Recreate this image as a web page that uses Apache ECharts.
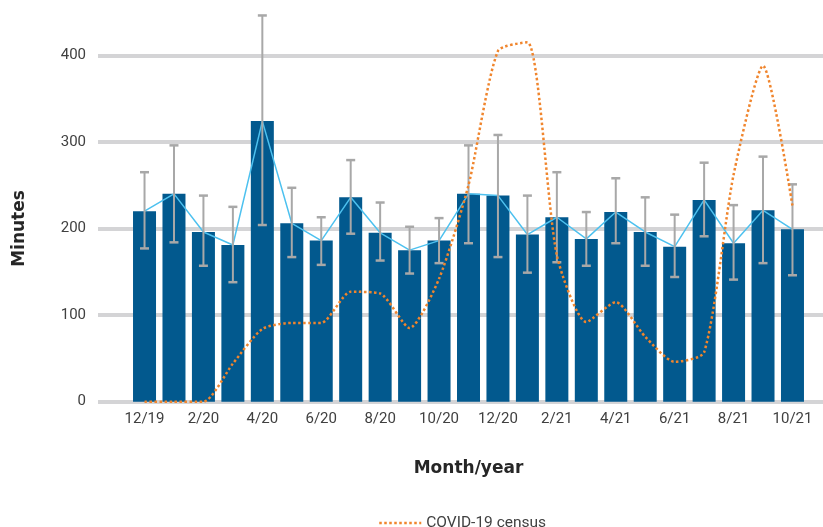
<!DOCTYPE html>
<html>
<head>
<meta charset="utf-8">
<script src="https://cdn.jsdelivr.net/npm/echarts@6/dist/echarts.min.js"></script>
<style>
html,body{margin:0;padding:0;background:#fff;}
#chart{width:823px;height:527px;}
</style>
</head>
<body>
<div id="chart"></div>
<script>
var categories = ['12/19','1/20','2/20','3/20','4/20','5/20','6/20','7/20','8/20','9/20','10/20','11/20','12/20','1/21','2/21','3/21','4/21','5/21','6/21','7/21','8/21','9/21','10/21'];
var minutes = [220,240,196,181,324,206,186,236,195,175,186,240,238,193,213,188,219,196,179,233,183,221,199];
var errHigh = [265,296,238,225,446,247,213,279,230,202,212,296,308,238,265,219,258,236,216,276,227,283,251];
var errLow  = [177,184,157,138,204,167,158,194,163,148,160,183,167,149,161,157,183,157,144,191,141,160,146];
var covid   = [0,0,0,44,84,91,91,127,125,85,142,250,405,415,169,92,115,75,46,57,262,388,226];
var yTicks  = [0,100,200,300,400];

var errData = categories.map(function(c, i){ return [i, errLow[i], errHigh[i]]; });

var chart = echarts.init(document.getElementById('chart'));
var TOP = 55.3, BOTTOM = 125.3;
var option = {
  animation: false,
  textStyle: {fontFamily: 'Roboto'},
  grid: [
    {left: 98, right: 0, top: TOP, bottom: BOTTOM},
    {left: 129.8, right: 15.8, top: TOP, bottom: BOTTOM}
  ],
  xAxis: [
    {type: 'value', gridIndex: 0, show: false, min: 0, max: 1},
    {type: 'category', gridIndex: 1, data: categories, boundaryGap: true,
     axisLine: {show: false}, axisTick: {show: false},
     axisLabel: {interval: 1, color: '#404040', fontSize: 15, margin: 10, fontFamily: 'Roboto'},
     name: 'Month/year', nameLocation: 'middle', nameGap: 58,
     nameTextStyle: {fontFamily: 'DejaVu Sans', fontWeight: 'bold', fontSize: 17, color: '#262626'}}
  ],
  yAxis: [
    {type: 'value', gridIndex: 0, min: 0, max: 400, interval: 100,
     axisLine: {show: false}, axisTick: {show: false},
     axisLabel: {color: '#404040', fontSize: 15, margin: 12, fontFamily: 'Roboto',
       formatter: function(v){ return yTicks.indexOf(v) >= 0 ? String(v) : ''; }},
     splitLine: {show: true, lineStyle: {color: '#D4D4D6', width: 4}},
     name: 'Minutes', nameLocation: 'middle', nameRotate: 90, nameGap: 70,
     nameTextStyle: {fontFamily: 'DejaVu Sans', fontWeight: 'bold', fontSize: 17, color: '#262626'}},
    {type: 'value', gridIndex: 1, min: 0, max: 400, interval: 100, show: false, splitLine: {show: false}}
  ],
  legend: {
    left: 373, top: 510, itemWidth: 42, itemHeight: 14, itemGap: 10,
    data: ['COVID-19 census'],
    itemStyle: {opacity: 0},
    lineStyle: {color: '#F0852D', width: 2.5, type: [2.5, 2.5]},
    textStyle: {fontFamily: 'Roboto', fontSize: 15.5, color: '#404040'}
  },
  series: [
    {type: 'bar', name: 'Minutes', xAxisIndex: 1, yAxisIndex: 1, data: minutes,
     barWidth: 23, itemStyle: {color: '#02598E'}, z: 2},
    {type: 'line', name: 'Mean', xAxisIndex: 1, yAxisIndex: 1, data: minutes,
     symbol: 'none', lineStyle: {color: '#4DC1EF', width: 1.5}, z: 3},
    {type: 'custom', name: 'Error', xAxisIndex: 1, yAxisIndex: 1, data: errData, z: 4, clip: false,
     renderItem: function(params, api){
       var x = api.value(0);
       var lo = api.coord([x, api.value(1)]);
       var hi = api.coord([x, api.value(2)]);
       var hw = 4.5;
       var st = {stroke: '#A8A8A8', lineWidth: 2};
       return {type: 'group', children: [
         {type: 'line', shape: {x1: lo[0], y1: lo[1], x2: hi[0], y2: hi[1]}, style: st},
         {type: 'line', shape: {x1: lo[0]-hw, y1: lo[1], x2: lo[0]+hw, y2: lo[1]}, style: {stroke: '#A8A8A8', lineWidth: 2.5}},
         {type: 'line', shape: {x1: hi[0]-hw, y1: hi[1], x2: hi[0]+hw, y2: hi[1]}, style: {stroke: '#A8A8A8', lineWidth: 2.5}}
       ]};
     }},
    {type: 'line', name: 'COVID-19 census', xAxisIndex: 1, yAxisIndex: 1, data: covid,
     smooth: 0.22, symbol: 'none', clip: false, z: 5,
     itemStyle: {color: '#F0852D'},
     lineStyle: {color: '#F0852D', width: 2.5, type: [2.5, 2.5]}}
  ]
};
chart.setOption(option);
</script>
</body>
</html>
